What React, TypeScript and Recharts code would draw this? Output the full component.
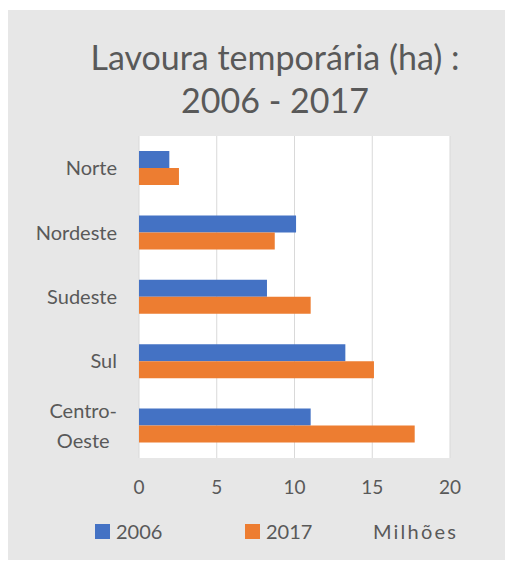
import React from "react";
import { BarChart, Bar, XAxis, YAxis, CartesianGrid, Legend } from "recharts";

const categories = ["Norte", "Nordeste", "Sudeste", "Sul", "Centro-Oeste"];
const values2006 = [1.95, 10.1, 8.23, 13.27, 11.04];
const values2017 = [2.57, 8.73, 11.04, 15.11, 17.73];
const xTicks = [0, 5, 10, 15, 20];
const seriesNames = ["2006", "2017"];
const seriesColors = ["#4472C4", "#ED7D31"];
const unitLabel = "Milhões";
const titleLines = ["Lavoura temporária (ha) :", "2006 - 2017"];

const data = categories.map((c, i) => ({
  name: c,
  v2006: values2006[i],
  v2017: values2017[i],
}));

const FONT = "Lato, 'Liberation Sans', sans-serif";
const TEXT = "#595959";

function measure(text: string, size: number) {
  if (typeof document === "undefined") return text.length * size * 0.5;
  const c = document.createElement("canvas");
  const ctx = c.getContext("2d");
  if (!ctx) return text.length * size * 0.5;
  ctx.font = `${size}px ${FONT}`;
  return ctx.measureText(text).width;
}

const YTick = (props: any) => {
  const { x, y, payload } = props;
  const label: string = payload.value;
  const size = 20;
  const parts = label.includes("-") ? [label.slice(0, label.indexOf("-") + 1), label.slice(label.indexOf("-") + 1)] : [label];
  if (parts.length === 1) {
    return (
      <text x={x} y={y} dy="0.35em" textAnchor="end" fill={TEXT} fontSize={size} fontFamily={FONT}>
        {label}
      </text>
    );
  }
  const maxW = Math.max(...parts.map((p) => measure(p, size)));
  const cx = x - maxW / 2;
  const lineH = 30;
  return (
    <text x={cx} y={y} textAnchor="middle" fill={TEXT} fontSize={size} fontFamily={FONT}>
      {parts.map((p, i) => (
        <tspan key={i} x={cx} dy={i === 0 ? -lineH / 2 + 7 : lineH}>
          {p}
        </tspan>
      ))}
    </text>
  );
};

const LegendContent = () => (
  <div style={{ position: "relative", height: 30, width: 497, fontFamily: FONT, fontSize: 20, color: TEXT }}>
    {seriesNames.map((n, i) => (
      <div key={n} style={{ position: "absolute", left: 87 + i * 150, top: 0, display: "flex", alignItems: "center", height: 30 }}>
        <span style={{ display: "inline-block", width: 15, height: 15, background: seriesColors[i], marginRight: 6 }} />
        <span>{n}</span>
      </div>
    ))}
    <div style={{ position: "absolute", left: 365, top: 0, height: 30, display: "flex", alignItems: "center", letterSpacing: 2.2 }}>
      {unitLabel}
    </div>
  </div>
);

export default function App() {
  return (
    <div
      style={{
        position: "fixed",
        left: 8,
        top: 10,
        width: 497,
        height: 550,
        background: "#e7e7e7",
        fontFamily: FONT,
      }}
    >
      <div
        style={{
          position: "absolute",
          top: 25,
          left: 0,
          width: 497,
          paddingLeft: 37,
          boxSizing: "border-box",
          textAlign: "center",
          fontSize: 34,
          lineHeight: "43px",
          color: TEXT,
        }}
      >
        {titleLines.map((t) => (
          <div key={t}>{t}</div>
        ))}
      </div>
      <div style={{ position: "absolute", top: 0, left: 0 }}>
        <BarChart
          width={497}
          height={550}
          data={data}
          layout="vertical"
          margin={{ top: 126, right: 55, bottom: 62, left: 0 }}
          barGap={0}
        >
          <CartesianGrid horizontal={false} stroke="#d9d9d9" fill="#ffffff" />
          <XAxis
            type="number"
            domain={[0, 20]}
            ticks={xTicks}
            axisLine={false}
            tickLine={false}
            tickSize={0}
            tickMargin={23}
            height={40}
            tick={{ fill: TEXT, fontSize: 19, fontFamily: FONT }}
          />
          <YAxis
            type="category"
            dataKey="name"
            width={131}
            axisLine={false}
            tickLine={false}
            tickSize={0}
            tickMargin={22}
            tick={<YTick />}
            interval={0}
          />
          <Legend
            layout="horizontal"
            verticalAlign="middle"
            align="center"
            content={<LegendContent />}
            wrapperStyle={{ top: 506, left: 0, width: 497 }}
          />
          <Bar dataKey="v2006" name={seriesNames[0]} fill={seriesColors[0]} barSize={17} isAnimationActive={false} />
          <Bar dataKey="v2017" name={seriesNames[1]} fill={seriesColors[1]} barSize={17} isAnimationActive={false} />
        </BarChart>
      </div>
    </div>
  );
}
